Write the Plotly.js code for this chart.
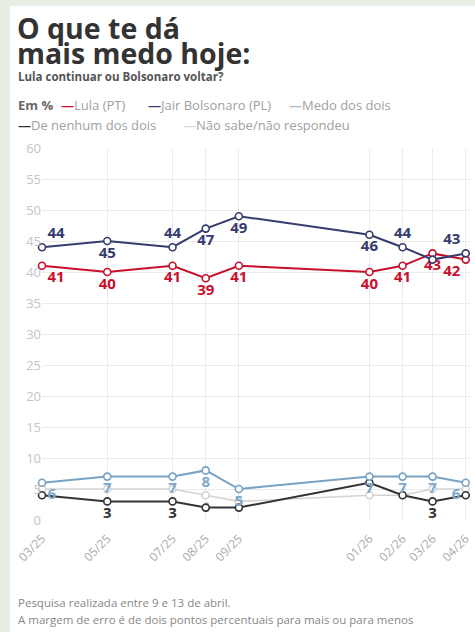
<!DOCTYPE html>
<html>
<head>
<meta charset="utf-8">
<script src="https://cdn.plot.ly/plotly-3.0.1.min.js"></script>
<style>
html,body{margin:0;padding:0;background:#fff;}
#chart{width:475px;height:632px;}
</style>
</head>
<body>
<div id="chart"></div>
<script>
// ---- data ----
const dates = ['2025-03-01','2025-05-01','2025-07-01','2025-08-01','2025-09-01','2026-01-01','2026-02-01','2026-03-01','2026-04-01'];
const tickLabels = ['03/25','05/25','07/25','08/25','09/25','01/26','02/26','03/26','04/26'];
const lula = [41, 40, 41, 39, 41, 40, 41, 43, 42];
const bolsonaro = [44, 45, 44, 47, 49, 46, 44, 42, 43];
const medoDosDois = [6, 7, 7, 8, 5, 7, 7, 7, 6];
const nenhum = [4, 3, 3, 2, 2, 6, 4, 3, 4];
const naoSabe = [5, 5, 5, 4, 3, 4, 4, 5, 5];
const yTicks = [0,5,10,15,20,25,30,35,40,45,50,55,60];

// which labels are shown
const bolsoShow = [1,1,1,1,1,1,1,0,1];
const bolsoPos = ['top right','bottom center','top center','bottom center','bottom center','bottom center','top center','top center','top left'];
const lulaPos = ['bottom right','bottom center','bottom center','bottom center','bottom center','bottom center','bottom center','bottom center','bottom left'];
const medoPos = ['bottom right','bottom center','bottom center','bottom center','bottom center','bottom center','bottom center','bottom center','bottom left'];
const nenhumShow = [0,1,1,0,0,0,0,1,0];
const naoShow = [0,0,0,1,0,0,0,0,0];

const C = {
  lula:'#c8102e', bolso:'#363b6e', medo:'#77a2c2', nenhum:'#333333', nao:'#d3d3d3',
  medoText:'#7ea8c8', naoText:'#c9c9c9'
};

const W = 475, H = 632;
const M = {l:42, r:5, t:148, b:112};
const pw = W - M.l - M.r, ph = H - M.t - M.b;
const px = x => (x - M.l) / pw;
const py = y => (H - M.b - y) / ph;

function series(name, y, color, textVals, textPos, textColor, width){
  return {
    type:'scatter', mode:'lines+markers+text', name:name,
    x:dates, y:y,
    line:{color:color, width:width||2},
    marker:{symbol:'circle', size:7, color:'#ffffff', line:{color:color, width:1.6}},
    text:textVals, textposition:textPos,
    textfont:{family:'Open Sans', size:15, color:textColor, weight:700},
    cliponaxis:false, hoverinfo:'skip', showlegend:false
  };
}

const traces = [
  series('Não sabe/não respondeu', naoSabe, C.nao, naoSabe.map((v,i)=>naoShow[i]?String(v):''), 'bottom center', C.naoText, 1.6),
  series('De nenhum dos dois', nenhum, C.nenhum, nenhum.map((v,i)=>nenhumShow[i]?String(v):''), 'bottom center', '#333333', 2),
  series('Medo dos dois', medoDosDois, C.medo, medoDosDois.map(String), medoPos, C.medoText, 2),
  series('Lula (PT)', lula, C.lula, lula.map(String), lulaPos, C.lula, 2),
  series('Jair Bolsonaro (PL)', bolsonaro, C.bolso, bolsonaro.map((v,i)=>bolsoShow[i]?String(v):''), bolsoPos, C.bolso, 2)
];

function ann(text, x, y, size, color, bold, extra){
  return Object.assign({
    text:text, xref:'paper', yref:'paper', x:px(x), y:py(y),
    xanchor:'left', yanchor:'middle', showarrow:false,
    font:{family:'Open Sans', size:size, color:color, weight: bold?700:400}
  }, extra||{});
}

const legendItems = [
  ['Lula (PT)', C.lula, 59, 105],
  ['Jair Bolsonaro (PL)', C.bolso, 146, 105],
  ['Medo dos dois', '#a9bccb', 287, 105],
  ['De nenhum dos dois', '#333333', 16, 125],
  ['Não sabe/não respondeu', '#d8d8d8', 181, 125]
];

const annotations = [
  ann('<b>O que te dá</b>', 15, 28, 28.5, '#333333', true),
  ann('<b>mais medo hoje:</b>', 15, 53, 28.5, '#333333', true),
  ann('<b>Lula continuar ou Bolsonaro voltar?</b>', 16, 77, 11.5, '#555555', true),
  ann('<b>Em %</b>', 16, 105, 13, '#666666', true),
  ann('Pesquisa realizada entre 9 e 13 de abril.', 16, 602, 11.5, '#888888', false),
  ann('A margem de erro é de dois pontos percentuais para mais ou para menos', 16, 619, 11.5, '#888888', false)
];
legendItems.forEach(it=>{
  annotations.push(ann('<span style="color:'+it[1]+'"><b>—</b></span>'+it[0], it[2], it[3], 13, '#a0a0a0', false));
});

const shapes = [
  // green frame (left and top strips)
  {type:'rect', xref:'paper', yref:'paper', x0:px(0), x1:px(10), y0:py(H), y1:py(0), fillcolor:'#e8eee4', line:{width:0}, layer:'below'},
  {type:'rect', xref:'paper', yref:'paper', x0:px(0), x1:px(W), y0:py(6), y1:py(0), fillcolor:'#e8eee4', line:{width:0}, layer:'below'}
];

const layout = {
  width:W, height:H,
  margin:M,
  paper_bgcolor:'#ffffff', plot_bgcolor:'#ffffff',
  showlegend:false,
  font:{family:'Open Sans', color:'#999'},
  xaxis:{
    type:'date', range:['2025-03-01','2026-04-05'],
    tickvals:dates, ticktext:tickLabels, tickangle:-45,
    tickfont:{family:'Open Sans', size:12, color:'#aaaaaa'},
    showgrid:true, gridcolor:'#ebebeb', gridwidth:1,
    zeroline:false, showline:false, ticks:'outside', ticklen:6, tickcolor:'rgba(0,0,0,0)', fixedrange:true
  },
  yaxis:{
    range:[0,60], tickvals:yTicks,
    tickfont:{family:'Open Sans', size:13, color:'#c4c4c4'},
    showgrid:true, gridcolor:'#ebebeb', gridwidth:1,
    zeroline:false, showline:false, ticks:'', ticklen:0, fixedrange:true
  },
  annotations:annotations,
  shapes:shapes
};

Plotly.newPlot('chart', traces, layout, {staticPlot:true, displayModeBar:false});
</script>
</body>
</html>
